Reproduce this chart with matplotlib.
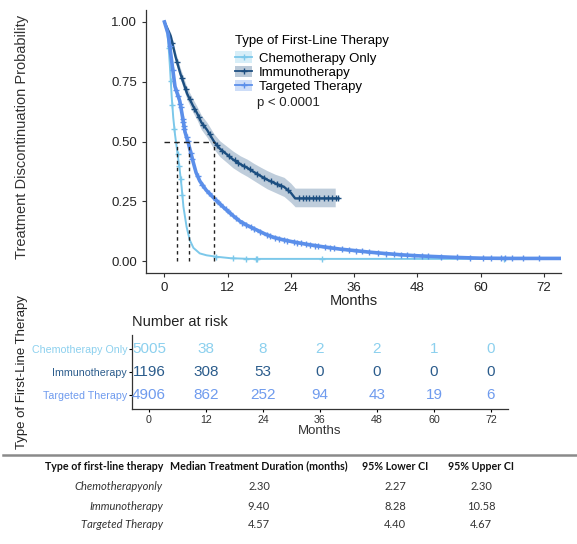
import numpy as np
import matplotlib
matplotlib.use("Agg")
import matplotlib.pyplot as plt
from matplotlib.lines import Line2D
from matplotlib.patches import Patch

plt.rcParams['font.family'] = ['Liberation Sans', 'DejaVu Sans']

# ---- data ----
groups = ['Chemotherapy Only', 'Immunotherapy', 'Targeted Therapy']
colors = ['#7CC8EA', '#1C4E80', '#5B8FEA']
risk_colors = ['#8CD0EE', '#2B5C8C', '#6F9BEE']

chemo_t = [0, 0.4, 0.7, 1.05, 1.37, 1.67, 2.0, 2.3, 2.9, 3.26, 3.6, 4.2, 4.8, 5.5, 6.7, 8.0, 9.9, 12.5, 16.2, 64.4]
chemo_s = [1.0, 0.97, 0.925, 0.81, 0.69, 0.60, 0.53, 0.48, 0.38, 0.31, 0.227, 0.143, 0.088, 0.055, 0.032, 0.024, 0.018, 0.012, 0.009, 0.009]
chemo_cens = [0.8, 1.2, 1.5, 1.9, 2.5, 2.8, 3.1, 3.4, 9.7, 13.1, 15.4, 17.3, 17.6, 29.9, 64.4]

immuno_t = [0, 0.6, 1.2, 2.1, 3.0, 4.3, 5.4, 6.2, 7.0, 8.1, 9.4, 10.5, 11.9, 13.0, 14.4, 15.7, 17.0, 18.3, 19.5, 21.0, 22.7, 24.0, 24.8, 33.0]
immuno_s = [1.0, 0.97, 0.94, 0.855, 0.785, 0.70, 0.65, 0.618, 0.58, 0.548, 0.50, 0.47, 0.445, 0.425, 0.405, 0.39, 0.372, 0.355, 0.34, 0.325, 0.31, 0.285, 0.262, 0.262]
immuno_lo = [1.0, 0.96, 0.925, 0.835, 0.762, 0.675, 0.622, 0.59, 0.55, 0.517, 0.468, 0.437, 0.411, 0.39, 0.37, 0.354, 0.336, 0.318, 0.302, 0.287, 0.27, 0.245, 0.227, 0.227]
immuno_hi = [1.0, 0.98, 0.955, 0.875, 0.808, 0.725, 0.678, 0.646, 0.61, 0.579, 0.532, 0.503, 0.479, 0.46, 0.44, 0.426, 0.408, 0.392, 0.378, 0.363, 0.35, 0.325, 0.305, 0.305]
immuno_ci_end = 32.4
immuno_cens = [1.5, 2.4, 3.3, 4.0, 4.8, 5.7, 6.5, 7.4, 8.6, 9.9, 11.0, 12.2, 13.3, 14.0, 15.1, 16.2, 17.6, 18.8, 20.2, 21.4, 22.2, 23.4,
               25.6, 26.3, 26.9, 27.5, 28.1, 28.8, 29.4, 30.2, 31.0, 31.8, 32.6, 33.0]

target_t = [0, 0.7, 1.35, 2.0, 2.9, 3.3, 3.9, 4.57, 5.5, 6.0, 6.7, 7.9, 9.3, 11.1, 13.0, 14.3, 15.8, 17.5, 19.0, 20.6, 22.3, 24.0, 27.0, 30.0, 33.3, 36.0, 39.0, 41.6, 45.0, 48.0, 51.0, 54.3, 57.0, 60.0, 66.0, 75.2]
target_s = [1.0, 0.95, 0.84, 0.73, 0.67, 0.62, 0.54, 0.49, 0.41, 0.37, 0.335, 0.297, 0.265, 0.227, 0.19, 0.167, 0.148, 0.13, 0.114, 0.10, 0.09, 0.082, 0.07, 0.06, 0.05, 0.044, 0.037, 0.032, 0.026, 0.022, 0.019, 0.016, 0.014, 0.012, 0.011, 0.011]
target_cens = [1.0, 1.6, 2.2, 2.6, 3.0, 3.1, 3.5, 3.6, 3.7, 3.8, 4.2, 4.4, 5.0, 5.3, 6.3, 7.2, 8.4, 9.7, 10.5, 11.6, 12.4, 13.6, 14.8, 15.5, 16.4,
               17.0, 18.2, 19.5, 20.1, 21.0, 21.8, 22.6, 23.3, 24.5, 25.2, 26.0, 26.8, 27.6, 28.5, 29.2, 30.4, 31.5, 32.2,
               33.6, 35.0, 36.4, 37.5, 38.8, 40.5, 42.0, 43.5, 44.8, 46.0, 47.3, 48.8, 50.1, 52.5, 55.5, 58.0, 60.5, 62.0,
               63.8, 64.6, 66.0, 68.0, 71.0]

medians = [2.30, 9.40, 4.57]

risk_times = [0, 12, 24, 36, 48, 60, 72]
risk_chemo = [5005, 38, 8, 2, 2, 1, 0]
risk_immuno = [1196, 308, 53, 0, 0, 0, 0]
risk_target = [4906, 862, 252, 94, 43, 19, 6]

tbl_header = ['Type of first-line therapy', 'Median Treatment Duration (months)', '95% Lower CI', '95% Upper CI']
tbl_names = ['Chemotherapyonly', 'Immunotherapy', 'Targeted Therapy']
tbl_median = ['2.30', '9.40', '4.57']
tbl_lower = ['2.27', '8.28', '4.40']
tbl_upper = ['2.30', '10.58', '4.67']

W, H = 577, 544
fig = plt.figure(figsize=(W / 100, H / 100), dpi=100)


def box(l, t, r, b):
    return [l / W, 1 - b / H, (r - l) / W, (b - t) / H]


# ---- survival panel ----
ax = fig.add_axes(box(146, 10, 561, 273))
curves = [(chemo_t, chemo_s, chemo_cens, 1.4),
          (immuno_t, immuno_s, immuno_cens, 1.7),
          (target_t, target_s, target_cens, 2.6)]

ci_t = np.array(immuno_t, dtype=float)
ci_t[-1] = immuno_ci_end
ax.fill_between(ci_t, immuno_lo, immuno_hi, color=colors[1], alpha=0.28, lw=0)
for (t, s, c, lw), col in zip(curves, colors):
    ax.plot(t, s, color=col, lw=lw, solid_joinstyle='round')
    ax.plot(c, np.interp(c, t, s), ls='none', marker='+', ms=5, mew=1.0, color=col)

# median lines
ax.plot([0, max(medians)], [0.5, 0.5], ls=(0, (4, 3)), color='#222222', lw=1)
for m in medians:
    ax.plot([m, m], [0, 0.5], ls=(0, (2.5, 2.5)), color='#222222', lw=1)

ax.set_xlim(-3.5, 75.24)
ax.set_ylim(-0.05, 1.05)
ax.set_xticks(risk_times)
ax.set_yticks([0, 0.25, 0.5, 0.75, 1.0])
ax.set_yticklabels(['0.00', '0.25', '0.50', '0.75', '1.00'])
for sp in ['top', 'right']:
    ax.spines[sp].set_visible(False)
for sp in ['left', 'bottom']:
    ax.spines[sp].set_color('#333333')
    ax.spines[sp].set_linewidth(0.9)
ax.tick_params(labelsize=9.5, colors='#333333', length=3, width=0.8, labelcolor='#222222')
ax.set_xlabel('Months', fontsize=10.5, labelpad=0, color='#222222')
fig.text(22 / W, 1 - 137 / H, 'Treatment Discontinuation Probability', rotation=90,
         ha='center', va='center', fontsize=10.5, color='#333333')

handles = [(Patch(facecolor=col, alpha=0.3, lw=0),
            Line2D([], [], color=col, marker='+', ms=5, lw=1.3)) for col in colors]
leg = fig.legend(handles, groups, loc='upper left', bbox_to_anchor=(230 / W, 1 - 30 / H),
                 frameon=False, fontsize=9.5, title='Type of First-Line Therapy',
                 title_fontsize=9.5, handlelength=1.3, handleheight=1.0, handletextpad=0.5,
                 labelspacing=0.05, borderaxespad=0)
leg._legend_box.align = 'left'
leg._legend_box.sep = 3
fig.text(257 / W, 1 - 103 / H, 'p < 0.0001', ha='left', va='center', fontsize=9.5, color='#222222')

# ---- number at risk panel ----
rx = fig.add_axes(box(132, 335, 508, 409))
rows = [risk_chemo, risk_immuno, risk_target]
ypos = [3, 2, 1]
for vals, y, col in zip(rows, ypos, risk_colors):
    for t, v in zip(risk_times, vals):
        rx.text(t, y, str(v), ha='center', va='center', fontsize=11, color=col)
rx.set_xlim(-3.58, 75.58)
rx.set_ylim(0.4, 3.6)
rx.set_xticks(risk_times)
rx.set_yticks(ypos)
rx.set_yticklabels(groups)
for lab, col in zip(rx.get_yticklabels(), risk_colors):
    lab.set_color(col)
for sp in ['top', 'right']:
    rx.spines[sp].set_visible(False)
for sp in ['left', 'bottom']:
    rx.spines[sp].set_color('#333333')
    rx.spines[sp].set_linewidth(0.9)
rx.tick_params(axis='y', labelsize=7.7, length=2.5, width=0.8, pad=1)
rx.tick_params(axis='x', labelsize=7.7, length=2.5, width=0.8, labelcolor='#333333', pad=2)
rx.set_xlabel('Months', fontsize=9.5, labelpad=0, color='#333333')
fig.text(132 / W, 1 - 322 / H, 'Number at risk', ha='left', va='center', fontsize=10.5, color='#222222')
fig.text(22 / W, 1 - 372 / H, 'Type of First-Line Therapy', rotation=90,
         ha='center', va='center', fontsize=9.5, color='#222222')

# ---- summary table ----
fig.add_artist(Line2D([3 / W, 1.0], [1 - 455 / H, 1 - 455 / H], color='#8a8a8a', lw=1.8))
tf = ['Lato', 'DejaVu Sans']
hx = [163, 259, 395, 481]
has = ['right', 'center', 'center', 'center']
for x, txt, ha in zip(hx, tbl_header, has):
    fig.text(x / W, 1 - 466 / H, txt, ha=ha, va='center', fontsize=7.7, fontweight='bold',
             family=tf, color='#111111')
row_y = [486, 506, 525]
for i, y in enumerate(row_y):
    fig.text(hx[0] / W, 1 - y / H, tbl_names[i], ha='right', va='center', fontsize=8,
             style='italic', family=tf, color='#333333')
    for x, col in zip(hx[1:], [tbl_median, tbl_lower, tbl_upper]):
        fig.text(x / W, 1 - y / H, col[i], ha='center', va='center', fontsize=8,
                 family=tf, color='#333333')

fig.savefig('out.png', dpi=100)
